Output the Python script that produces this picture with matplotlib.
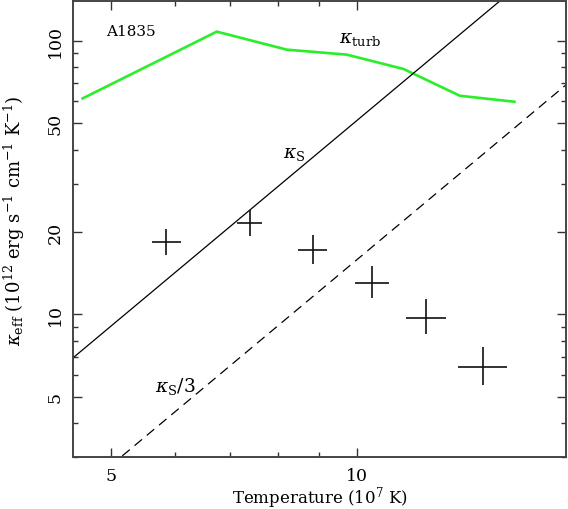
import matplotlib
matplotlib.use("Agg")
import matplotlib.pyplot as plt
from matplotlib.ticker import LogLocator, FixedLocator, NullFormatter, FixedFormatter
import numpy as np

plt.rcParams['font.family'] = ['DejaVu Serif']
plt.rcParams['mathtext.fontset'] = 'dejavuserif'
plt.rcParams['lines.scale_dashes'] = False

# Turbulent conductivity curve
T_turb = [4.62, 6.74, 8.21, 9.72, 11.4, 13.36, 15.58]
k_turb = [61.5, 107.9, 92.7, 88.9, 78.8, 62.9, 59.8]

# Spitzer conductivity line and one third of it (end points)
T_line = [4.5, 18.0]
k_spitzer = [6.94, 222.0]
k_spitzer3 = [2.15, 68.8]

# Measured points with error ranges
T_pts = [5.85, 7.41, 8.84, 10.44, 12.15, 14.26]
T_lo = [5.62, 7.14, 8.48, 9.95, 11.49, 13.30]
T_hi = [6.10, 7.66, 9.19, 10.93, 12.85, 15.24]
k_pts = [18.35, 21.5, 17.16, 13.0, 9.67, 6.41]
k_lo = [16.45, 19.35, 15.25, 11.47, 8.45, 5.51]
k_hi = [20.5, 24.1, 19.5, 15.03, 11.35, 7.62]

x_ticks = [5, 10]
y_ticks = [5, 10, 20, 50, 100]

fig = plt.figure(figsize=(5.68, 5.10), dpi=100)
ax = fig.add_axes([0.129, 0.1014, 0.867, 0.8953])
ax.set_xscale('log')
ax.set_yscale('log')
ax.set_xlim(4.5, 18.0)
ax.set_ylim(3.0, 140.0)

ax.plot(T_turb, k_turb, color='#2bee2b', lw=1.9, solid_joinstyle='miter')
ax.plot(T_line, k_spitzer, color='black', lw=0.9)
ax.plot(T_line, k_spitzer3, color='black', lw=0.9, dashes=(7.0, 4.5))

xerr = [np.array(T_pts) - np.array(T_lo), np.array(T_hi) - np.array(T_pts)]
yerr = [np.array(k_pts) - np.array(k_lo), np.array(k_hi) - np.array(k_pts)]
ax.errorbar(T_pts, k_pts, xerr=xerr, yerr=yerr, fmt='none', ecolor='#111111',
            elinewidth=1.2, capsize=0)

ax.text(5.29, 108.8, 'A1835', ha='center', va='center', fontsize=11)
ax.text(9.51, 99, r'$\kappa_{\rm turb}$', ha='left', va='baseline', fontsize=13.5)
ax.text(8.13, 37.5, r'$\kappa_{\rm S}$', ha='left', va='baseline', fontsize=13.5)
ax.text(5.67, 5.23, r'$\kappa_{\rm S}/3$', ha='left', va='baseline', fontsize=13.5)

ax.xaxis.set_major_locator(FixedLocator(x_ticks))
ax.xaxis.set_major_formatter(FixedFormatter([str(v) for v in x_ticks]))
ax.xaxis.set_minor_locator(LogLocator(base=10, subs=np.arange(2, 10)))
ax.xaxis.set_minor_formatter(NullFormatter())
ax.yaxis.set_major_locator(FixedLocator(y_ticks))
ax.yaxis.set_major_formatter(FixedFormatter([str(v) for v in y_ticks]))
ax.yaxis.set_minor_locator(LogLocator(base=10, subs=np.arange(2, 10)))
ax.yaxis.set_minor_formatter(NullFormatter())

ax.tick_params(which='both', direction='in', top=True, right=True,
               color='#333333', width=1.0, labelsize=12.5)
ax.tick_params(which='major', length=6.5, pad=7)
ax.tick_params(which='minor', length=3.8)
for lab in ax.get_yticklabels():
    lab.set_rotation(90)
    lab.set_va('center')
for sp in ax.spines.values():
    sp.set_linewidth(1.4)
    sp.set_color('#444444')

ax.set_xlabel(r'Temperature (10$^7$ K)', fontsize=12)
ax.xaxis.set_label_coords(0.5, -0.058)
ax.set_ylabel(r'$\kappa_{\rm eff}$ (10$^{12}$ erg s$^{-1}$ cm$^{-1}$ K$^{-1}$)',
              fontsize=13)
ax.yaxis.set_label_coords(-0.094, 0.52)

fig.savefig('out.png', dpi=100)
